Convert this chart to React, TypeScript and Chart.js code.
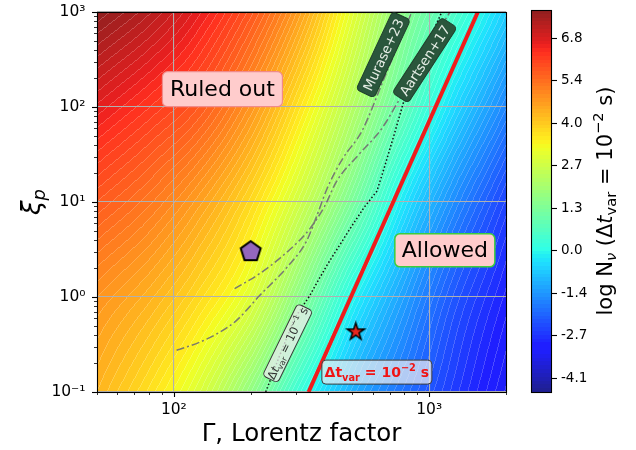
import React, { useEffect, useRef } from 'react';
import { Chart, registerables } from 'chart.js';

Chart.register(...registerables);

// ---------------- data ----------------
// log N_nu field, sampled on a (Gamma, xi_p) grid read from the picture
const gammaGrid = [50, 80, 125, 200, 315, 500, 800, 1250, 2000];
const xiGrid = [0.1, 1, 10, 100, 1000];
const logN_xi_0p1 = [4.4, 3.75, 2.95, 1.7, 0.2, -1.05, -1.9, -2.65, -3.35];
const logN_xi_1 = [4.9, 4.45, 3.85, 3.0, 1.55, -0.05, -1.25, -2.25, -3.0];
const logN_xi_10 = [5.75, 5.3, 4.7, 3.85, 2.7, 1.3, -0.3, -1.5, -2.5];
const logN_xi_100 = [6.7, 6.25, 5.75, 4.85, 3.65, 2.3, 0.85, -0.45, -1.6];
const logN_xi_1000 = [7.7, 7.25, 6.65, 5.8, 4.65, 3.1, 1.6, 0.55, -0.6];

const cbMin = -4.55;
const cbMax = 7.72;
const nLevels = 100;
const cbTickValues = [-4.11, -2.75, -1.38, -0.02, 1.35, 2.71, 4.07, 5.44, 6.8];
const cbTickLabels = ['-4.1', '-2.7', '-1.4', '0.0', '1.3', '2.7', '4.0', '5.4', '6.8'];

const xMajorValues = [100, 1000];
const xMajorLabels = ['10²', '10³'];
const yMajorValues = [0.1, 1, 10, 100, 1000];
const yMajorLabels = ['10⁻¹', '10⁰', '10¹', '10²', '10³'];

// Delta t_var = 1e-2 s (red)
const redGamma = [337, 1552];
const redXi = [0.1, 1000];
// Delta t_var = 1e-1 s (dotted)
const dotGamma = [229, 260, 297, 337, 397, 484, 554, 624, 670, 726, 795, 935, 1121];
const dotXi = [0.1, 0.244, 0.595, 0.988, 2.14, 4.97, 8.65, 13.0, 23.8, 49.1, 114, 338, 1000];
// Murase+23
const muraseGamma = [102.5, 126.2, 151.1, 176.1, 216.8, 276.6, 331.4, 362, 398, 458, 544.6, 670.4, 855];
const muraseXi = [0.275, 0.334, 0.425, 0.567, 1.037, 2.036, 3.905, 7.0, 13.8, 28.5, 55.4, 208.6, 1000];
// Aartsen+17
const aartsenGamma = [173, 216.8, 284.2, 340.5, 389.9, 434.5, 530, 650, 767.6, 961.8, 1206];
const aartsenXi = [1.227, 1.762, 3.144, 5.215, 9.08, 16.6, 31.5, 58.5, 122.7, 363, 1000];
// markers
const pentagonGamma = [200];
const pentagonXi = [3];
const starGamma = [516];
const starXi = [0.43];

// annotation anchors (data coords)
const annTexts = ['Ruled out', 'Allowed', 'Murase+23', 'Aartsen+17'];
const annGamma = [155, 1152, 661, 960];
const annXi = [154, 3.1, 355, 311];
const dt1Anchor = [279, 0.326];
const dt2Anchor = [624, 0.162];

// ---------------- helpers ----------------
const FAMILY = '"DejaVu Sans"';
const F = (size: number, pre = '') => `${pre} ${size}px ${FAMILY}`.trim();

function seg(t: number, pts: number[][]) {
  if (t <= pts[0][0]) return pts[0][1];
  for (let i = 0; i < pts.length - 1; i++) {
    if (t <= pts[i + 1][0]) {
      const [x0, y0] = pts[i];
      const [x1, y1] = pts[i + 1];
      return y0 + ((y1 - y0) * (t - x0)) / (x1 - x0);
    }
  }
  return pts[pts.length - 1][1];
}
const jetR = [[0, 0], [0.35, 0], [0.66, 1], [0.89, 1], [1, 0.5]];
const jetG = [[0, 0], [0.125, 0], [0.375, 1], [0.64, 1], [0.91, 0], [1, 0]];
const jetB = [[0, 0.5], [0.11, 1], [0.34, 1], [0.65, 0], [1, 0]];
const ALPHA = 0.88;
const palette: number[][] = [];
for (let k = 0; k < nLevels; k++) {
  const t = (k + 0.5) / nLevels;
  const c = [seg(t, jetR), seg(t, jetG), seg(t, jetB)];
  palette.push(c.map((v) => Math.round(255 * (v * ALPHA + 1 - ALPHA))));
}
const levelOf = (val: number) => {
  let k = Math.floor(((val - cbMin) / (cbMax - cbMin)) * nLevels);
  if (k < 0) k = 0;
  if (k > nLevels - 1) k = nLevels - 1;
  return k;
};

function cr(p0: number, p1: number, p2: number, p3: number, t: number) {
  const t2 = t * t;
  const t3 = t2 * t;
  return 0.5 * (2 * p1 + (-p0 + p2) * t + (2 * p0 - 5 * p1 + 4 * p2 - p3) * t2 + (-p0 + 3 * p1 - 3 * p2 + p3) * t3);
}
function interp1(nodes: number[], vals: number[], x: number) {
  const n = nodes.length;
  let k = 0;
  while (k < n - 2 && x > nodes[k + 1]) k++;
  const t = (x - nodes[k]) / (nodes[k + 1] - nodes[k]);
  const p1 = vals[k];
  const p2 = vals[k + 1];
  const p0 = k > 0 ? vals[k - 1] : 2 * p1 - p2;
  const p3 = k + 2 < n ? vals[k + 2] : 2 * p2 - p1;
  return cr(p0, p1, p2, p3, t);
}
const uNodes = gammaGrid.map((g) => Math.log10(g));
const vNodes = xiGrid.map((x) => Math.log10(x));
const fieldRows = [logN_xi_0p1, logN_xi_1, logN_xi_10, logN_xi_100, logN_xi_1000];

function logTicks(min: number, max: number) {
  const out: any[] = [];
  for (let e = Math.floor(Math.log10(min)) - 1; e <= Math.ceil(Math.log10(max)); e++) {
    for (let d = 1; d <= 9; d++) {
      const v = parseFloat((d * Math.pow(10, e)).toPrecision(6));
      if (v >= min * 0.999999 && v <= max * 1.000001) out.push({ value: v, major: d === 1 });
    }
  }
  return out;
}
function findLabel(vals: number[], labels: string[], v: number) {
  for (let i = 0; i < vals.length; i++) {
    if (Math.abs(Math.log10(v) - Math.log10(vals[i])) < 1e-6) return labels[i];
  }
  return '';
}

type Seg = { t: string; f: string; dy?: number };
function richText(ctx: CanvasRenderingContext2D, segs: Seg[], cx: number, cy: number, angle: number, base: number, color: string) {
  ctx.save();
  ctx.translate(cx, cy);
  ctx.rotate((angle * Math.PI) / 180);
  ctx.textAlign = 'left';
  ctx.textBaseline = 'alphabetic';
  ctx.fillStyle = color;
  const ws = segs.map((s) => {
    ctx.font = s.f;
    return ctx.measureText(s.t).width;
  });
  const total = ws.reduce((a, b) => a + b, 0);
  let x = -total / 2;
  segs.forEach((s, i) => {
    ctx.font = s.f;
    ctx.fillText(s.t, x, base + (s.dy || 0));
    x += ws[i];
  });
  ctx.restore();
}
function box(ctx: CanvasRenderingContext2D, cx: number, cy: number, w: number, h: number, angle: number, r: number, fill: string, stroke: string | null, lw: number) {
  ctx.save();
  ctx.translate(cx, cy);
  ctx.rotate((angle * Math.PI) / 180);
  ctx.beginPath();
  (ctx as any).roundRect(-w / 2, -h / 2, w, h, r);
  ctx.fillStyle = fill;
  ctx.fill();
  if (stroke) {
    ctx.lineWidth = lw;
    ctx.strokeStyle = stroke;
    ctx.stroke();
  }
  ctx.restore();
}
function makeMarker(kind: 'pent' | 'star', R: number, fill: string, lw: number) {
  const s = Math.ceil(2 * R + 2 * lw + 2);
  const c = document.createElement('canvas');
  c.width = s;
  c.height = s;
  const g = c.getContext('2d')!;
  g.translate(s / 2, s / 2);
  g.beginPath();
  const n = kind === 'pent' ? 5 : 10;
  for (let k = 0; k < n; k++) {
    const a = -Math.PI / 2 + (k * 2 * Math.PI) / n;
    const r = kind === 'pent' ? R : k % 2 ? R * 0.382 : R;
    const px = r * Math.cos(a);
    const py = r * Math.sin(a);
    if (k === 0) g.moveTo(px, py);
    else g.lineTo(px, py);
  }
  g.closePath();
  g.fillStyle = fill;
  g.fill();
  g.lineWidth = lw;
  g.strokeStyle = '#000';
  g.lineJoin = 'miter';
  g.stroke();
  return c;
}
const pts = (gs: number[], xs: number[]) => gs.map((g, i) => ({ x: g, y: xs[i] }));

// ---------------- plugins ----------------
const fieldPlugin = {
  id: 'field',
  beforeDraw(chart: any) {
    const { ctx, chartArea: a, scales } = chart;
    const xs = scales.x;
    const ys = scales.y;
    const x0 = Math.floor(a.left);
    const y0 = Math.floor(a.top);
    const w = Math.ceil(a.right) - x0;
    const h = Math.ceil(a.bottom) - y0;
    const vs: number[] = [];
    for (let j = 0; j < h; j++) vs.push(Math.log10(ys.getValueForPixel(y0 + j + 0.5)));
    const lev = new Int16Array(w * h);
    for (let i = 0; i < w; i++) {
      const u = Math.log10(xs.getValueForPixel(x0 + i + 0.5));
      const col = fieldRows.map((r) => interp1(uNodes, r, u));
      for (let j = 0; j < h; j++) lev[j * w + i] = levelOf(interp1(vNodes, col, vs[j]));
    }
    const img = ctx.createImageData(w, h);
    const d = img.data;
    const mix = 0.2;
    for (let j = 0; j < h; j++) {
      for (let i = 0; i < w; i++) {
        const idx = j * w + i;
        const k = lev[idx];
        const c = palette[k];
        const seam = (i > 0 && lev[idx - 1] !== k) || (j > 0 && lev[idx - w] !== k);
        const o = idx * 4;
        for (let q = 0; q < 3; q++) d[o + q] = seam ? Math.round(c[q] * (1 - mix) + 255 * mix) : c[q];
        d[o + 3] = 255;
      }
    }
    const off = document.createElement('canvas');
    off.width = w;
    off.height = h;
    off.getContext('2d')!.putImageData(img, 0, 0);
    ctx.drawImage(off, x0, y0);
  },
  afterDraw(chart: any) {
    const { ctx, chartArea: a, scales } = chart;
    const xs = scales.x;
    const ys = scales.y;
    ctx.save();
    ctx.strokeStyle = '#000';
    xs.ticks.forEach((t: any) => {
      const px = Math.round(xs.getPixelForValue(t.value)) + 0.5;
      ctx.lineWidth = t.major ? 1.1 : 0.8;
      ctx.beginPath();
      ctx.moveTo(px, a.bottom);
      ctx.lineTo(px, a.bottom + (t.major ? 5 : 3));
      ctx.stroke();
    });
    ys.ticks.forEach((t: any) => {
      const py = Math.round(ys.getPixelForValue(t.value)) + 0.5;
      ctx.lineWidth = t.major ? 1.1 : 0.8;
      ctx.beginPath();
      ctx.moveTo(a.left, py);
      ctx.lineTo(a.left - (t.major ? 5 : 3), py);
      ctx.stroke();
    });
    ctx.lineWidth = 1.1;
    ctx.strokeRect(Math.floor(a.left) + 0.5, Math.floor(a.top) + 0.5, Math.round(a.right - a.left), Math.round(a.bottom - a.top));
    ctx.restore();

    const P = (g: number, x: number) => [xs.getPixelForValue(g), ys.getPixelForValue(x)];

    // Ruled out
    let [cx, cy] = P(annGamma[0], annXi[0]);
    box(ctx, cx, cy, 120, 35, 0, 5, '#ffcccc', '#f08a8a', 1.2);
    richText(ctx, [{ t: annTexts[0], f: F(22) }], cx, cy, 0, 6.5, '#000');
    // Allowed
    [cx, cy] = P(annGamma[1], annXi[1]);
    box(ctx, cx, cy, 100, 33, 0, 5, '#ffcccc', '#3ccd3c', 1.5);
    richText(ctx, [{ t: annTexts[1], f: F(22) }], cx, cy, 0, 7, '#000');
    // Murase+23
    [cx, cy] = P(annGamma[2], annXi[2]);
    box(ctx, cx, cy, 86, 20, -65, 4, 'rgb(42,86,60)', 'rgb(30,62,42)', 1);
    richText(ctx, [{ t: annTexts[2], f: F(13.5) }], cx, cy, -65, 5, 'rgb(228,236,228)');
    // Aartsen+17
    [cx, cy] = P(annGamma[3], annXi[3]);
    box(ctx, cx, cy, 90, 19, -57, 4, 'rgb(42,86,60)', 'rgb(30,62,42)', 1);
    richText(ctx, [{ t: annTexts[3], f: F(13.5) }], cx, cy, -57, 5, 'rgb(228,236,228)');
    // dt = 1e-1 s
    [cx, cy] = P(dt1Anchor[0], dt1Anchor[1]);
    box(ctx, cx, cy, 80, 17, -64, 4, 'rgba(232,236,232,0.78)', 'rgb(55,55,55)', 1);
    richText(
      ctx,
      [
        { t: 'Δ', f: F(11.5) },
        { t: 't', f: F(11.5, 'italic') },
        { t: 'var', f: F(8), dy: 2.5 },
        { t: ' = 10', f: F(11.5) },
        { t: '−1', f: F(8), dy: -5 },
        { t: ' s', f: F(11.5) },
      ],
      cx,
      cy,
      -64,
      4,
      'rgb(45,45,45)'
    );
    // dt = 1e-2 s
    [cx, cy] = P(dt2Anchor[0], dt2Anchor[1]);
    box(ctx, cx, cy, 110, 24, 0, 4, 'rgba(236,236,240,0.72)', 'rgb(60,60,60)', 1);
    richText(
      ctx,
      [
        { t: 'Δt', f: F(14, 'bold') },
        { t: 'var', f: F(9.8, 'bold'), dy: 3.5 },
        { t: ' = 10', f: F(14, 'bold') },
        { t: '−2', f: F(9.8, 'bold'), dy: -6 },
        { t: ' s', f: F(14, 'bold') },
      ],
      cx,
      cy,
      0,
      5,
      'rgb(240,20,20)'
    );
    // y-axis label xi_p
    richText(
      ctx,
      [
        { t: 'ξ', f: F(26, 'italic') },
        { t: 'p', f: F(18, 'italic'), dy: 5 },
      ],
      31,
      (a.top + a.bottom) / 2,
      -90,
      9,
      '#000'
    );
  },
};

const cbPlugin = {
  id: 'cbar',
  beforeDraw(chart: any) {
    const { ctx, chartArea: a, scales } = chart;
    const ys = scales.y;
    const top = Math.floor(a.top);
    const bot = Math.ceil(a.bottom);
    for (let py = top; py < bot; py++) {
      const k = levelOf(ys.getValueForPixel(py + 0.5));
      const c = palette[k];
      ctx.fillStyle = `rgb(${c[0]},${c[1]},${c[2]})`;
      ctx.fillRect(a.left, py, a.right - a.left, 1);
    }
  },
  afterDraw(chart: any) {
    const { ctx, chartArea: a } = chart;
    ctx.save();
    ctx.strokeStyle = '#000';
    ctx.lineWidth = 1.1;
    ctx.strokeRect(Math.floor(a.left) - 0.5, Math.floor(a.top) + 0.5, Math.round(a.right - a.left), Math.round(a.bottom - a.top));
    ctx.restore();
    richText(
      ctx,
      [
        { t: 'log N', f: F(21) },
        { t: 'ν', f: F(14.7, 'italic'), dy: 4.5 },
        { t: ' (Δ', f: F(21) },
        { t: 't', f: F(21, 'italic') },
        { t: 'var', f: F(14.7), dy: 4.5 },
        { t: ' = 10', f: F(21) },
        { t: '−2', f: F(14.7), dy: -8.5 },
        { t: ' s)', f: F(21) },
      ],
      84,
      (a.top + a.bottom) / 2,
      -90,
      7.6,
      '#000'
    );
  },
};

// ---------------- component ----------------
export default function App() {
  const mainRef = useRef<HTMLCanvasElement>(null);
  const cbRef = useRef<HTMLCanvasElement>(null);

  useEffect(() => {
    Chart.defaults.font.family = FAMILY;
    Chart.defaults.color = '#000';
    const pent = makeMarker('pent', 10.5, '#9467bd', 2);
    const star = makeMarker('star', 9, '#e8261e', 1.5);
    const gridColor = (c: any) => (c.tick && c.tick.major ? '#b0b0b0' : 'rgba(0,0,0,0)');

    const main = new Chart(mainRef.current!, {
      type: 'scatter',
      data: {
        datasets: [
          { label: 'pentagon', data: pts(pentagonGamma, pentagonXi), pointStyle: pent as any, pointRadius: 11, showLine: false },
          { label: 'star', data: pts(starGamma, starXi), pointStyle: star as any, pointRadius: 10, showLine: false },
          { label: 'dt 1e-2', data: pts(redGamma, redXi), showLine: true, borderColor: '#f01c1c', borderWidth: 4, pointRadius: 0, tension: 0 },
          { label: 'dt 1e-1', data: pts(dotGamma, dotXi), showLine: true, borderColor: '#111', borderWidth: 1.5, borderDash: [1.5, 2.2], pointRadius: 0, tension: 0 },
          { label: 'Murase+23', data: pts(muraseGamma, muraseXi), showLine: true, borderColor: 'rgba(115,115,115,0.95)', borderWidth: 1.5, borderDash: [8, 3, 2, 3], pointRadius: 0, cubicInterpolationMode: 'monotone' },
          { label: 'Aartsen+17', data: pts(aartsenGamma, aartsenXi), showLine: true, borderColor: 'rgba(115,115,115,0.95)', borderWidth: 1.5, borderDash: [8, 3, 2, 3], pointRadius: 0, cubicInterpolationMode: 'monotone' },
        ] as any,
      },
      options: {
        animation: false,
        responsive: false,
        events: [],
        layout: { padding: { left: 0, right: 130, top: 10, bottom: 0 } },
        plugins: { legend: { display: false }, tooltip: { enabled: false } },
        scales: {
          x: {
            type: 'logarithmic',
            min: 50,
            max: 2000,
            afterBuildTicks: (s: any) => {
              s.ticks = logTicks(50, 2000);
            },
            afterFit: (s: any) => {
              s.height = 58;
              s.paddingLeft = 0;
              s.paddingRight = 0;
            },
            grid: { color: gridColor, lineWidth: 1.1, drawTicks: false },
            border: { display: false },
            ticks: {
              autoSkip: false,
              maxRotation: 0,
              padding: 9,
              font: { size: 15.5 },
              color: '#000',
              callback: (v: any) => findLabel(xMajorValues, xMajorLabels, Number(v)),
            },
            title: { display: true, text: 'Γ, Lorentz factor', color: '#000', font: { size: 24.5 }, padding: { top: 0, bottom: 1 } },
          },
          y: {
            type: 'logarithmic',
            min: 0.1,
            max: 1000,
            afterBuildTicks: (s: any) => {
              s.ticks = logTicks(0.1, 1000);
            },
            afterFit: (s: any) => {
              s.width = 97;
              s.paddingTop = 0;
              s.paddingBottom = 0;
            },
            grid: { color: gridColor, lineWidth: 1.1, drawTicks: false },
            border: { display: false },
            ticks: {
              autoSkip: false,
              padding: 11.5,
              font: { size: 15.5 },
              color: '#000',
              callback: (v: any) => findLabel(yMajorValues, yMajorLabels, Number(v)),
            },
          },
        },
      } as any,
      plugins: [fieldPlugin],
    });

    const cb = new Chart(cbRef.current!, {
      type: 'scatter',
      data: { datasets: [] },
      options: {
        animation: false,
        responsive: false,
        events: [],
        layout: { padding: { left: 12, right: 0, top: 10, bottom: 58 } },
        plugins: { legend: { display: false }, tooltip: { enabled: false } },
        scales: {
          x: { display: false, min: 0, max: 1 },
          y: {
            position: 'right',
            min: cbMin,
            max: cbMax,
            afterBuildTicks: (s: any) => {
              s.ticks = cbTickValues.map((v) => ({ value: v }));
            },
            afterFit: (s: any) => {
              s.width = 84;
              s.paddingTop = 0;
              s.paddingBottom = 0;
            },
            grid: { drawOnChartArea: false, drawTicks: true, tickLength: 5, tickColor: '#000', tickWidth: 1.1 },
            border: { display: false },
            ticks: {
              autoSkip: false,
              padding: 4,
              font: { size: 13.5 },
              color: '#000',
              callback: (_v: any, i: number) => cbTickLabels[i],
            },
          },
        },
      } as any,
      plugins: [cbPlugin],
    });

    return () => {
      main.destroy();
      cb.destroy();
    };
  }, []);

  return (
    <div style={{ position: 'fixed', left: 0, top: 0, width: 636, height: 450, background: '#fff' }}>
      <canvas ref={mainRef} width={636} height={450} style={{ position: 'absolute', left: 0, top: 0 }} />
      <canvas ref={cbRef} width={116} height={450} style={{ position: 'absolute', left: 520, top: 0 }} />
    </div>
  );
}
